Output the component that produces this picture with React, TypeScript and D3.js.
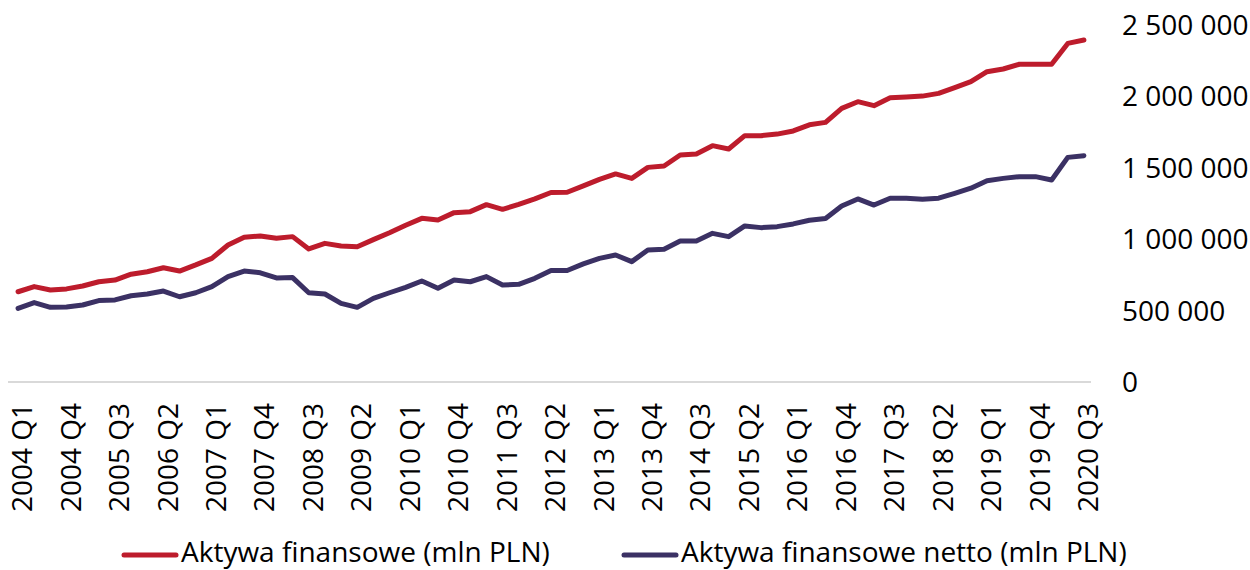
import React from "react";
import * as d3 from "d3";

// quarters on the category axis
const quarters = [
  "2004 Q1", "2004 Q2", "2004 Q3", "2004 Q4",
  "2005 Q1", "2005 Q2", "2005 Q3", "2005 Q4",
  "2006 Q1", "2006 Q2", "2006 Q3", "2006 Q4",
  "2007 Q1", "2007 Q2", "2007 Q3", "2007 Q4",
  "2008 Q1", "2008 Q2", "2008 Q3", "2008 Q4",
  "2009 Q1", "2009 Q2", "2009 Q3", "2009 Q4",
  "2010 Q1", "2010 Q2", "2010 Q3", "2010 Q4",
  "2011 Q1", "2011 Q2", "2011 Q3", "2011 Q4",
  "2012 Q1", "2012 Q2", "2012 Q3", "2012 Q4",
  "2013 Q1", "2013 Q2", "2013 Q3", "2013 Q4",
  "2014 Q1", "2014 Q2", "2014 Q3", "2014 Q4",
  "2015 Q1", "2015 Q2", "2015 Q3", "2015 Q4",
  "2016 Q1", "2016 Q2", "2016 Q3", "2016 Q4",
  "2017 Q1", "2017 Q2", "2017 Q3", "2017 Q4",
  "2018 Q1", "2018 Q2", "2018 Q3", "2018 Q4",
  "2019 Q1", "2019 Q2", "2019 Q3", "2019 Q4",
  "2020 Q1", "2020 Q2", "2020 Q3",
];

// Aktywa finansowe (mln PLN)
const assets = [
  632000, 668000, 644000, 652000, 672000, 702000, 714000, 755000,
  772000, 800000, 777000, 820000, 866000, 959000, 1014000, 1023000,
  1007000, 1018000, 932000, 971000, 952000, 947000, 997000, 1045000,
  1098000, 1146000, 1134000, 1186000, 1193000, 1242000, 1209000, 1244000,
  1282000, 1327000, 1329000, 1373000, 1419000, 1457000, 1426000, 1503000,
  1513000, 1590000, 1597000, 1655000, 1632000, 1725000, 1725000, 1736000,
  1758000, 1801000, 1818000, 1916000, 1963000, 1935000, 1990000, 1995000,
  2002000, 2021000, 2061000, 2103000, 2173000, 2192000, 2225000, 2225000,
  2225000, 2371000, 2395000,
];

// Aktywa finansowe netto (mln PLN)
const netAssets = [
  516000, 556000, 523000, 525000, 539000, 570000, 575000, 604000,
  616000, 637000, 597000, 625000, 668000, 738000, 777000, 765000,
  729000, 731000, 625000, 616000, 551000, 523000, 586000, 625000,
  663000, 707000, 656000, 714000, 702000, 738000, 679000, 684000,
  726000, 781000, 781000, 827000, 866000, 889000, 843000, 925000,
  930000, 988000, 988000, 1041000, 1018000, 1093000, 1081000, 1088000,
  1107000, 1133000, 1145000, 1232000, 1282000, 1239000, 1287000, 1287000,
  1280000, 1287000, 1321000, 1357000, 1410000, 1426000, 1438000, 1438000,
  1415000, 1573000, 1585000,
];

const yTicks = [0, 500000, 1000000, 1500000, 2000000, 2500000];

const seriesNames = [
  "Aktywa finansowe (mln PLN)",
  "Aktywa finansowe netto (mln PLN)",
];

const width = 1250;
const height = 570;
const font = "'Open Sans', 'Noto Sans', sans-serif";
const colors = ["#bd1c2c", "#3b3164"];

const locale = d3.formatLocale({
  decimal: ",",
  thousands: " ",
  grouping: [3],
  currency: ["", ""],
});
const fmt = locale.format(",");

export default function App() {
  const x = d3
    .scalePoint<string>()
    .domain(quarters)
    .range([10, 1092])
    .padding(0.5);
  const y = d3.scaleLinear().domain([0, 2500000]).range([382, 25]);

  const line = d3
    .line<number>()
    .x((d, i) => x(quarters[i]) as number)
    .y((d) => y(d));

  const series = [assets, netAssets];
  const legendX = [122, 622];

  return (
    <svg
      width={width}
      height={height}
      style={{ position: "absolute", left: 0, top: 0, fontFamily: font }}
    >
      <rect width={width} height={height} fill="#fff" />
      <line x1={8} x2={1091} y1={y(0)} y2={y(0)} stroke="#d9d9d9" strokeWidth={2} />

      {yTicks.map((t) => (
        <text
          key={t}
          x={1122}
          y={y(t)}
          dy="0.36em"
          fontSize={28}
          fill="#000"
        >
          {fmt(t)}
        </text>
      ))}

      {quarters.map((q, i) =>
        i % 3 === 0 ? (
          <text
            key={q}
            transform={`translate(${(x(q) as number) + 4},403) rotate(-90)`}
            textAnchor="end"
            dy="0.36em"
            fontSize={28}
            fill="#000"
          >
            {q}
          </text>
        ) : null
      )}

      {series.map((s, k) => (
        <path
          key={k}
          d={line(s) || ""}
          fill="none"
          stroke={colors[k]}
          strokeWidth={5}
          strokeLinejoin="round"
          strokeLinecap="round"
        />
      ))}

      {seriesNames.map((name, k) => (
        <g key={name}>
          <line
            x1={legendX[k] + 2}
            x2={legendX[k] + 54}
            y1={555}
            y2={555}
            stroke={colors[k]}
            strokeWidth={5}
            strokeLinecap="round"
          />
          <text x={legendX[k] + 59} y={562} fontSize={28} fill="#000">
            {name}
          </text>
        </g>
      ))}
    </svg>
  );
}
